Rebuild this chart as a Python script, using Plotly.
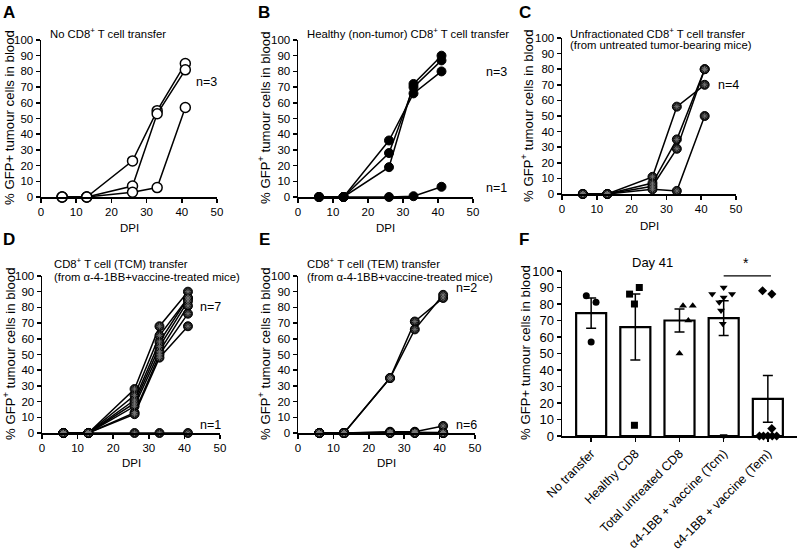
import plotly.graph_objects as go

W, H = 800, 553
FONT = "Liberation Sans, Arial, sans-serif"

# ---------------- data ----------------
dpi = [6, 13, 26, 33, 41]

a_series = [[0, 0, 23, 55, 85], [0, 0, 7, 53, 81], [0, 0, 3, 6, 57]]
b_n3 = [[0, 0, 36, 66, 80], [0, 0, 28, 70, 87], [0, 0, 19, 72, 90]]
b_n1 = [[0, 0, 0, 0.5, 6.5]]
c_series = [[0, 0, 11, 56, 70], [0, 0, 7, 35, 80], [0, 0, 5, 29, 80], [0, 0, 3, 2, 50]]
d_n7 = [[0, 0, 28, 68, 90], [0, 0, 24, 62, 86], [0, 0, 21, 58, 86], [0, 0, 19, 55, 84],
        [0, 0, 17, 52, 81], [0, 0, 13, 50, 76], [0, 0, 12, 48, 68]]
d_n1 = [[0, 0, 0, 0, 0]]
e_n2 = [[0, 0, 35, 71, 86], [0, 0, 35, 66, 88]]
e_n6 = [[0, 0, 0.8, 0.8, 4.5], [0, 0, 0.5, 0.5, 0.3], [0, 0, 0.3, 0.3, 0],
        [0, 0, 0.2, 0.2, 0], [0, 0, 0.1, 0.1, 0], [0, 0, 0, 0, 0]]

f_categories = ["No transfer", "Healthy CD8", "Total untreated CD8",
                "α4-1BB + vaccine (Tcm)", "α4-1BB + vaccine (Tem)"]
f_means = [74.5, 66, 70, 71.4, 22.5]
f_sem = [9.2, 20, 7, 10.5, 14.2]
f_points = [[85, 81, 57], [86, 90, 80, 6.5], [79, 79, 70, 50],
            [90, 86, 86, 84, 81, 76, 68, 0], [88, 86, 4.5, 0, 0, 0, 0, 0]]
f_jitter = [[-0.11, 0.11, 0], [-0.13, 0.09, -0.02, -0.02], [0.08, 0.3, 0.2, 0],
            [0, -0.26, 0.19, 0, -0.1, -0.06, -0.02, 0],
            [-0.12, 0.09, 0.09, -0.19, -0.1, 0, 0.1, 0.2]]
f_symbols = ["circle", "square", "triangle-up", "triangle-down", "diamond"]

# ---------------- layout helpers ----------------
def xdom(p0, p1):
    return [p0 / W, p1 / W]

def ydom(top, bottom):
    return [1 - bottom / H, 1 - top / H]

def px(x):
    return x / W

def py(y):
    return 1 - y / H

panels = {  # axis suffix: (x0, x1, ytop, ybottom)
    "": (41, 217, 40, 197),
    "2": (298, 473, 40, 197),
    "3": (562, 736, 38, 194),
    "4": (42, 220, 276, 433),
    "5": (298, 475, 276, 433),
    "6": (562, 797, 271, 436),
}

fig = go.Figure()

def add_lines(series, ax, mstyle, overlay=False):
    xa = "x" + ax
    ya = "y" + ax
    for s in series:
        fig.add_trace(go.Scatter(x=dpi, y=s, mode="lines+markers", xaxis=xa, yaxis=ya,
                                 line=dict(color="black", width=1.5), marker=mstyle,
                                 cliponaxis=False, showlegend=False, hoverinfo="skip"))
    if overlay:
        xs, ys = [], []
        for s in series:
            xs += dpi
            ys += s
        fig.add_trace(go.Scatter(x=xs, y=ys, mode="markers", xaxis=xa, yaxis=ya,
                                 marker=dict(symbol="asterisk-open", size=5, color="#777777",
                                             line=dict(color="#777777", width=0.8)),
                                 cliponaxis=False, showlegend=False, hoverinfo="skip"))

open_c = dict(symbol="circle", size=10, color="white", line=dict(color="black", width=1.5))
fill_c = dict(symbol="circle", size=9, color="black", line=dict(color="black", width=1))
hatch_c = dict(symbol="circle", size=9, color="#1a1a1a", line=dict(color="black", width=1))

add_lines(a_series, "", open_c)
add_lines(b_n3 + b_n1, "2", fill_c)
add_lines(c_series, "3", hatch_c, overlay=True)
add_lines(d_n7 + d_n1, "4", hatch_c, overlay=True)
add_lines(e_n2 + e_n6, "5", hatch_c, overlay=True)

# Panel F bars
fig.add_trace(go.Bar(x=list(range(len(f_categories))), y=f_means, xaxis="x6", yaxis="y6",
                     width=0.68, marker=dict(color="white", line=dict(color="black", width=2.2)),
                     error_y=dict(type="data", array=f_sem, visible=True, color="black",
                                  thickness=1.5, width=5),
                     showlegend=False, hoverinfo="skip"))
for i, (vals, jit) in enumerate(zip(f_points, f_jitter)):
    fig.add_trace(go.Scatter(x=[i + j for j in jit], y=vals, mode="markers", xaxis="x6", yaxis="y6",
                             marker=dict(symbol=f_symbols[i], size=7, color="black"),
                             cliponaxis=False, showlegend=False, hoverinfo="skip"))

axis_common = dict(showline=True, linecolor="black", linewidth=1.5, ticks="outside",
                   ticklen=4, tickwidth=1.5, tickcolor="black", showgrid=False,
                   zeroline=False, tickfont=dict(family=FONT, size=11.5, color="black"),
                   fixedrange=True, automargin=False)

layout = dict(width=W, height=H, margin=dict(l=0, r=0, t=0, b=0, autoexpand=False),
              paper_bgcolor="white", plot_bgcolor="white", autosize=False,
              font=dict(family=FONT, size=12, color="black"))

for ax, (x0, x1, yt, yb) in panels.items():
    xkey = "xaxis" + ax
    ykey = "yaxis" + ax
    anchor_x = "y" + ax
    anchor_y = "x" + ax
    if ax == "6":
        layout[xkey] = dict(axis_common, domain=xdom(x0, x1), anchor=anchor_x,
                            range=[-0.66, 4.66], tickmode="array",
                            tickvals=list(range(len(f_categories))), ticktext=f_categories,
                            tickangle=-45, ticklen=4,
                            tickfont=dict(family=FONT, size=12.5, color="black"))
        layout[ykey] = dict(axis_common, domain=ydom(yt, yb), anchor=anchor_y,
                            range=[0, 100], dtick=10, tick0=0,
                            tickfont=dict(family=FONT, size=13, color="black"))
    else:
        layout[xkey] = dict(axis_common, domain=xdom(x0, x1), anchor=anchor_x,
                            range=[0, 50], dtick=10, tick0=0)
        layout[ykey] = dict(axis_common, domain=ydom(yt, yb), anchor=anchor_y,
                            range=[0, 100], dtick=10, tick0=0)

fig.update_layout(**layout)

ann = []

def text(x, y, t, size=11.3, xanchor="center", yanchor="middle", bold=False, angle=0):
    ann.append(dict(x=px(x), y=py(y), xref="paper", yref="paper", text=("<b>%s</b>" % t) if bold else t,
                    showarrow=False, xanchor=xanchor, yanchor=yanchor, textangle=angle,
                    font=dict(family=FONT, size=size, color="black")))

# Panel letters
for letter, (x, y) in zip("ABCDEF", [(9, 12), (264, 12), (525, 12), (9, 240), (264, 240), (524, 240)]):
    text(x, y, letter, size=17, bold=True)

# Titles
text(48, 33, "No CD8<sup>+</sup> T cell transfer", xanchor="left")
text(305, 33, "Healthy (non-tumor) CD8<sup>+</sup> T cell transfer", xanchor="left")
text(568, 33, "Unfractionated CD8<sup>+</sup> T cell transfer", xanchor="left")
text(568, 45, "(from untreated tumor-bearing mice)", xanchor="left")
text(52, 263, "CD8<sup>+</sup> T cell (TCM) transfer", xanchor="left")
text(52, 277, "(from α-4-1BB+vaccine-treated mice)", xanchor="left")
text(305, 263, "CD8<sup>+</sup> T cell (TEM) transfer", xanchor="left")
text(305, 277, "(from α-4-1BB+vaccine-treated mice)", xanchor="left")
text(652, 262, "Day 41", size=13)

# x titles
for xc, yc in [(129, 228), (385, 228), (649, 226), (131, 463), (386, 463)]:
    text(xc, yc, "DPI", size=11.5)

# y titles
ytitle_plain = "% GFP+ tumour cells in blood"
ytitle_sup = "% GFP<sup>+</sup> tumour cells in blood"
text(9, 118, ytitle_plain, size=13.2, angle=-90)
text(264, 118, ytitle_sup, size=13.2, angle=-90)
text(527, 116, ytitle_sup, size=13.2, angle=-90)
text(9, 354, ytitle_sup, size=13.2, angle=-90)
text(264, 354, ytitle_sup, size=13.2, angle=-90)
text(525, 353, ytitle_plain, size=13.2, angle=-90)

# n= labels
for (xc, yc, t) in [(206, 82, "n=3"), (496, 72, "n=3"), (496, 188, "n=1"), (728, 85, "n=4"),
                    (210, 307, "n=7"), (210, 425, "n=1"), (466, 288, "n=2"), (466, 425, "n=6")]:
    text(xc, yc, t, size=12.5)

# significance
ann.append(dict(x=3.5, y=99, xref="x6", yref="y6", text="*", showarrow=False,
                xanchor="center", yanchor="bottom", font=dict(family=FONT, size=14, color="black")))

fig.update_layout(annotations=ann)
fig.add_shape(type="line", xref="x6", yref="y6", x0=3.0, x1=4.07, y0=97, y1=97,
              line=dict(color="black", width=1.2))

fig.write_html("out.html", config={"displayModeBar": False, "staticPlot": True},
               post_script="document.body.style.margin='0';document.body.style.overflow='hidden';")
